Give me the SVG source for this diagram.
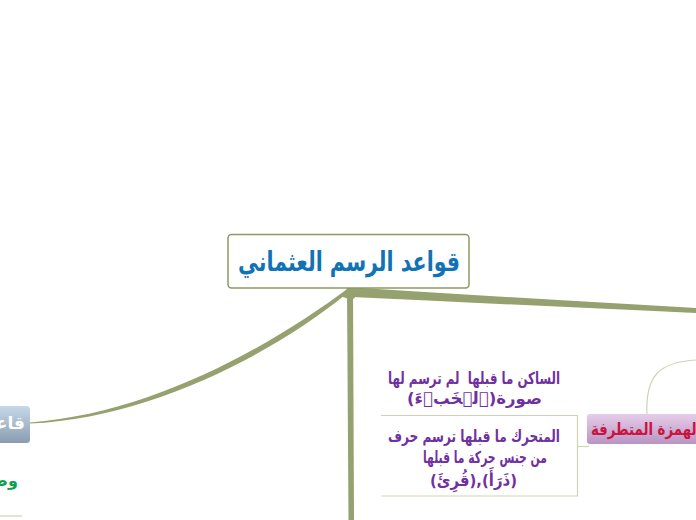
<svg xmlns="http://www.w3.org/2000/svg" width="696" height="520" viewBox="0 0 696 520">
<defs>
<linearGradient id="gBlue" x1="0" y1="0" x2="0" y2="1">
<stop offset="0" stop-color="#c6d9ea"/><stop offset="1" stop-color="#8a9db0"/>
</linearGradient>
<linearGradient id="gPurple" x1="0" y1="0" x2="0" y2="1">
<stop offset="0" stop-color="#e6cdea"/><stop offset="1" stop-color="#b994c2"/>
</linearGradient>
<style>
.ar{font-family:"DejaVu Sans","Liberation Sans",sans-serif;font-weight:bold;direction:rtl;white-space:pre}
.branch{fill:#95a16e}
.thin{fill:none;stroke:#cfd3b6;stroke-width:1.2}
.purple{fill:#7030a0;font-size:16.5px}
</style>
</defs>
<rect width="696" height="520" fill="#ffffff"/>
<g id="connectors">
<path class="branch" d="M350,287 C 270,347 150,414 30,422.4 L 30,423.6 C 150,418 272,354 345,295 Z"/>
<path class="branch" d="M347,289 L 353,289 L 354,520 L 348.5,520 Z"/>
<path class="branch" d="M346,287 Q 500,297 696,308 L 696,313 Q 500,304 352,297 Z"/>
<path class="branch" d="M340,296 L 350,286 L 362,291 L 352,300 Z"/>
<path class="thin" d="M647,415 C 645,375 660,362 696,360"/>
<path class="thin" d="M578,446.5 L 589,446.5"/>
<path class="thin" d="M381,415.5 L 577.5,415.5 L 577.5,496 L 381,496"/>
<path class="thin" d="M0,516 L 22,516"/>
</g>
<g id="root">
<rect x="228" y="234.5" width="241" height="53.5" rx="3.5" fill="#ffffff" stroke="#8c9a60" stroke-width="1.5"/>
<text class="ar" x="349" y="271" text-anchor="middle" font-size="27" fill="#1173b6" textLength="222" lengthAdjust="spacingAndGlyphs">قواعد الرسم العثماني</text>
</g>
<g id="node-left">
<rect x="-10" y="406" width="40" height="37" rx="3.5" fill="url(#gBlue)"/>
<text class="ar" x="25" y="429" text-anchor="start" font-size="17" fill="#ffffff">قاعدة</text>
</g>
<g id="node-left-green">
<text class="ar" x="18" y="486" text-anchor="start" font-size="16" fill="#0ca050">وصل</text>
</g>
<g id="node-hamza">
<rect x="587" y="414" width="120" height="30" rx="3" fill="url(#gPurple)"/>
<text class="ar" x="591" y="435" text-anchor="end" font-size="17" fill="#c8143e" textLength="110" lengthAdjust="spacingAndGlyphs">الهمزة المتطرفة</text>
</g>
<g id="node-sakin">
<text class="ar purple" x="474" y="384" text-anchor="middle" textLength="172" lengthAdjust="spacingAndGlyphs">الساكن ما قبلها  لم ترسم لها</text>
<text class="ar purple" x="474.5" y="404" text-anchor="middle" textLength="135" lengthAdjust="spacingAndGlyphs">صورة(ٱلۡخَبۡءَ)</text>
</g>
<g id="node-mutaharrik">
<text class="ar purple" x="474" y="442" text-anchor="middle" textLength="172" lengthAdjust="spacingAndGlyphs">المتحرك ما قبلها ترسم حرف</text>
<text class="ar purple" x="485" y="463" text-anchor="middle" textLength="124" lengthAdjust="spacingAndGlyphs">من جنس حركة ما قبلها</text>
<text class="ar purple" x="473.5" y="486" text-anchor="middle" textLength="87" lengthAdjust="spacingAndGlyphs">(ذَرَأَ),(قُرِئَ)</text>
</g>
</svg>
